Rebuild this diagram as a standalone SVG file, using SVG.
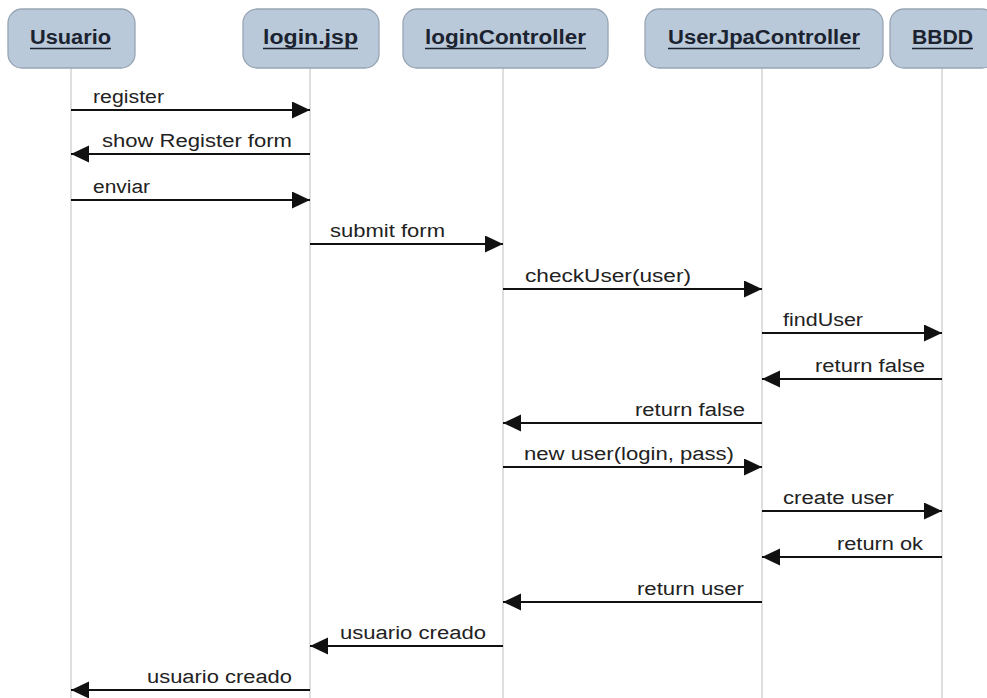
<svg xmlns="http://www.w3.org/2000/svg" width="987" height="698" viewBox="0 0 987 698">
<style>
.box{fill:#b9c9d9;stroke:#97a5b4;stroke-width:1.3}
.ht{font-family:"Liberation Sans",Arial,sans-serif;font-size:20px;font-weight:bold;fill:#1c2330;text-anchor:middle}
.ul{stroke:#1c2330;stroke-width:1.6}
.life{stroke:#c8c8c8;stroke-width:1.2}
.msg{stroke:#111;stroke-width:2;fill:none;marker-end:url(#arr)}
.lbl{font-family:"Liberation Sans",Arial,sans-serif;font-size:18px;fill:#222}
.e{text-anchor:end}
</style>
<defs>
<marker id="arr" markerUnits="userSpaceOnUse" markerWidth="19" markerHeight="18" refX="18" refY="8.5" orient="auto">
<path d="M0,0 L18,8.5 L0,17 z" fill="#111"/>
</marker>
</defs>
<rect width="987" height="698" fill="#fff"/>
<g id="lifelines">
<line class="life" x1="71" y1="68" x2="71" y2="698"/>
<line class="life" x1="310" y1="68" x2="310" y2="698"/>
<line class="life" x1="503" y1="68" x2="503" y2="698"/>
<line class="life" x1="762" y1="68" x2="762" y2="698"/>
<line class="life" x1="942" y1="68" x2="942" y2="698"/>
</g>
<g id="node-usuario">
<rect class="box" x="8" y="9" width="127" height="59" rx="14"/>
<text class="ht" x="70.5" y="44" textLength="81" lengthAdjust="spacingAndGlyphs">Usuario</text>
<line class="ul" x1="30" y1="48.5" x2="111" y2="48.5"/>
</g>
<g id="node-login">
<rect class="box" x="243" y="9" width="136" height="59" rx="14"/>
<text class="ht" x="310.5" y="44" textLength="95" lengthAdjust="spacingAndGlyphs">login.jsp</text>
<line class="ul" x1="263" y1="48.5" x2="358" y2="48.5"/>
</g>
<g id="node-loginController">
<rect class="box" x="403" y="9" width="205" height="59" rx="14"/>
<text class="ht" x="505.5" y="44" textLength="161" lengthAdjust="spacingAndGlyphs">loginController</text>
<line class="ul" x1="425" y1="48.5" x2="586" y2="48.5"/>
</g>
<g id="node-userJpa">
<rect class="box" x="645" y="9" width="238" height="59" rx="14"/>
<text class="ht" x="764" y="44" textLength="192" lengthAdjust="spacingAndGlyphs">UserJpaController</text>
<line class="ul" x1="668" y1="48.5" x2="860" y2="48.5"/>
</g>
<g id="node-bbdd">
<rect class="box" x="890" y="9" width="106" height="59" rx="14"/>
<text class="ht" x="942.5" y="44" textLength="61" lengthAdjust="spacingAndGlyphs">BBDD</text>
<line class="ul" x1="912" y1="48.5" x2="973" y2="48.5"/>
</g>
<g id="connectors">
<line class="msg" x1="71" y1="110" x2="310" y2="110"/>
<text class="lbl" x="93" y="103" textLength="71" lengthAdjust="spacingAndGlyphs">register</text>
<line class="msg" x1="310" y1="154" x2="71" y2="154"/>
<text class="lbl e" x="292" y="147" textLength="190" lengthAdjust="spacingAndGlyphs">show Register form</text>
<line class="msg" x1="71" y1="200" x2="310" y2="200"/>
<text class="lbl" x="93" y="193" textLength="57" lengthAdjust="spacingAndGlyphs">enviar</text>
<line class="msg" x1="310" y1="244" x2="503" y2="244"/>
<text class="lbl" x="330" y="237" textLength="115" lengthAdjust="spacingAndGlyphs">submit form</text>
<line class="msg" x1="503" y1="289" x2="762" y2="289"/>
<text class="lbl" x="525" y="282" textLength="166" lengthAdjust="spacingAndGlyphs">checkUser(user)</text>
<line class="msg" x1="762" y1="333" x2="942" y2="333"/>
<text class="lbl" x="783" y="326" textLength="80" lengthAdjust="spacingAndGlyphs">findUser</text>
<line class="msg" x1="942" y1="379" x2="762" y2="379"/>
<text class="lbl e" x="925" y="371.5" textLength="110" lengthAdjust="spacingAndGlyphs">return false</text>
<line class="msg" x1="762" y1="423" x2="503" y2="423"/>
<text class="lbl e" x="745" y="415.5" textLength="110" lengthAdjust="spacingAndGlyphs">return false</text>
<line class="msg" x1="503" y1="467" x2="762" y2="467"/>
<text class="lbl" x="524" y="460" textLength="210" lengthAdjust="spacingAndGlyphs">new user(login, pass)</text>
<line class="msg" x1="762" y1="511" x2="942" y2="511"/>
<text class="lbl" x="783" y="504" textLength="111" lengthAdjust="spacingAndGlyphs">create user</text>
<line class="msg" x1="942" y1="557" x2="762" y2="557"/>
<text class="lbl e" x="923" y="549.5" textLength="86" lengthAdjust="spacingAndGlyphs">return ok</text>
<line class="msg" x1="762" y1="602" x2="503" y2="602"/>
<text class="lbl e" x="744" y="594.5" textLength="107" lengthAdjust="spacingAndGlyphs">return user</text>
<line class="msg" x1="503" y1="646" x2="310" y2="646"/>
<text class="lbl e" x="486" y="638.5" textLength="146" lengthAdjust="spacingAndGlyphs">usuario creado</text>
<line class="msg" x1="310" y1="690" x2="71" y2="690"/>
<text class="lbl e" x="292" y="682.5" textLength="145" lengthAdjust="spacingAndGlyphs">usuario creado</text>
</g>
</svg>
